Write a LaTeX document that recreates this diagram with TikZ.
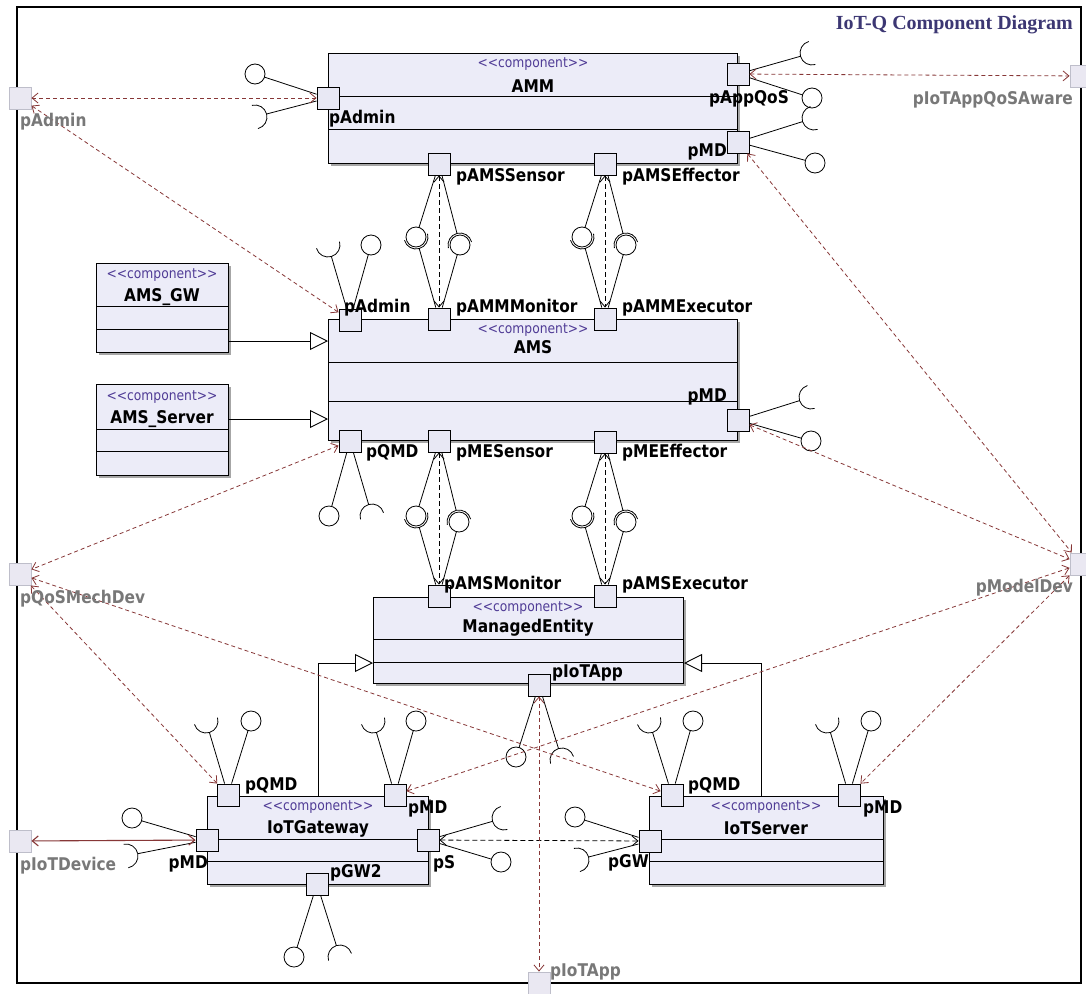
\documentclass[tikz,border=0pt]{standalone}
\usepackage{fontspec}
\usetikzlibrary{arrows.meta,calc,shadows}
\newfontfamily\lblf{DejaVu Sans}[FakeStretch=0.88]
\newfontfamily\titf{Liberation Serif}
\definecolor{compfill}{RGB}{236,236,248}
\definecolor{portfill}{RGB}{232,232,244}
\definecolor{bfill}{RGB}{234,232,242}
\definecolor{bdraw}{RGB}{190,190,202}
\definecolor{stcol}{RGB}{80,60,150}
\definecolor{delcol}{RGB}{135,55,55}
\definecolor{titcol}{RGB}{60,55,115}
\definecolor{graytxt}{RGB}{120,120,120}
\newcommand\ballr{10pt}
\newcommand\sockr{12pt}
\newcommand\lolli[2]{\draw[iline] let \p1=($(#2)-(#1)$), \n1={atan2(\y1,\x1)} in (#1) -- ($(#2)+(\n1+180:\ballr)$) (#2) circle[radius=\ballr];}
\newcommand\sockt[2]{\draw[iline] let \p1=($(#2)-(#1)$), \n1={atan2(\y1,\x1)} in (#1) -- ($(#2)+(\n1+180:\sockr)$) ($(#2)+(\n1+90:\sockr)$) arc[start angle=\n1+90, end angle=\n1+270, radius=\sockr];}
\newcommand\stereo{\symbol{60}\symbol{60}component\symbol{62}\symbol{62}}
\begin{document}
\begin{tikzpicture}[x=1pt,y=1pt,
 comp/.style={draw, line width=1pt, fill=compfill, anchor=north west, inner sep=0, drop shadow={shadow xshift=2pt,shadow yshift=-2pt,fill=black!35,opacity=1}},
 sep/.style={line width=1pt},
 port/.style={draw, line width=0.9pt, fill=portfill, minimum size=22pt, inner sep=0},
 bport/.style={draw=bdraw, line width=0.9pt, fill=bfill, minimum size=22pt, inner sep=0},
 lbl/.style={font=\lblf\bfseries\fontsize{17.5}{20}\selectfont, inner sep=0},
 glbl/.style={lbl, text=graytxt},
 st/.style={font=\lblf\fontsize{14}{16}\selectfont, text=stcol, inner sep=0},
 iline/.style={line width=0.8pt},
 barbs/.style={{Straight Barb[length=6pt,width=10pt]}-{Straight Barb[length=6pt,width=10pt]}},
 deleg/.style={draw=delcol, line width=0.8pt, dash pattern=on 4pt off 3pt, barbs},
 delsolid/.style={draw=delcol, line width=1.1pt, barbs},
 asm/.style={draw=black, line width=0.8pt, dash pattern=on 5pt off 3pt, barbs},
 gen/.style={line width=0.9pt, -{Triangle[length=18pt,width=18pt,fill=white]}}
]
\useasboundingbox (0,0) rectangle (1086,-993);
\fill[white] (0,0) rectangle (1086,-993);
\draw[line width=1.3pt] (17,-7) rectangle (1081,-983);
\node[anchor=east, font=\titf\bfseries\fontsize{20}{22}\selectfont, text=titcol, inner sep=0] (title) at (1073,-25) {IoT-Q Component Diagram};

% components
\node[comp, minimum width=409pt, minimum height=110pt] (AMM) at (328,-53) {};
\draw[sep] (AMM.west |- 0,-96) -- (AMM.east |- 0,-96);
\draw[sep] (AMM.west |- 0,-129) -- (AMM.east |- 0,-129);
\node[st] (AMMst) at (533,-64) {\stereo};
\node[lbl] (AMMnm) at (533,-86) {AMM};

\node[comp, minimum width=409pt, minimum height=121pt] (AMS) at (328,-319) {};
\draw[sep] (AMS.west |- 0,-362) -- (AMS.east |- 0,-362);
\draw[sep] (AMS.west |- 0,-401) -- (AMS.east |- 0,-401);
\node[st] (AMSst) at (533,-330) {\stereo};
\node[lbl] (AMSnm) at (533,-347) {AMS};

\node[comp, minimum width=132pt, minimum height=89pt] (AMSGW) at (96,-263) {};
\draw[sep] (AMSGW.west |- 0,-306) -- (AMSGW.east |- 0,-306);
\draw[sep] (AMSGW.west |- 0,-329) -- (AMSGW.east |- 0,-329);
\node[st] (AMSGWst) at (162,-275) {\stereo};
\node[lbl] (AMSGWnm) at (162,-297) {AMS\_GW};

\node[comp, minimum width=132pt, minimum height=91pt] (AMSSV) at (96,-384) {};
\draw[sep] (AMSSV.west |- 0,-429) -- (AMSSV.east |- 0,-429);
\draw[sep] (AMSSV.west |- 0,-451) -- (AMSSV.east |- 0,-451);
\node[st] (AMSSVst) at (162,-397) {\stereo};
\node[lbl] (AMSSVnm) at (162,-419) {AMS\_Server};

\node[comp, minimum width=310pt, minimum height=86pt] (ME) at (373,-597) {};
\draw[sep] (ME.west |- 0,-639) -- (ME.east |- 0,-639);
\draw[sep] (ME.west |- 0,-662) -- (ME.east |- 0,-662);
\node[st] (MEst) at (528,-608) {\stereo};
\node[lbl] (MEnm) at (528,-628) {ManagedEntity};

\node[comp, minimum width=221pt, minimum height=88pt] (GW) at (207,-796) {};
\draw[sep] (GW.west |- 0,-839) -- (GW.east |- 0,-839);
\draw[sep] (GW.west |- 0,-861) -- (GW.east |- 0,-861);
\node[st] (GWst) at (318,-807) {\stereo};
\node[lbl] (GWnm) at (318,-829) {IoTGateway};

\node[comp, minimum width=234pt, minimum height=88pt] (SRV) at (649,-796) {};
\draw[sep] (SRV.west |- 0,-839) -- (SRV.east |- 0,-839);
\draw[sep] (SRV.west |- 0,-861) -- (SRV.east |- 0,-861);
\node[st] (SRVst) at (766,-807) {\stereo};
\node[lbl] (SRVnm) at (766,-828) {IoTServer};

% generalizations
\draw[gen] (AMSGW.east |- 0,-341) -- (AMS.west |- 0,-341);
\draw[gen] (AMSSV.east |- 0,-419) -- (AMS.west |- 0,-419);
\draw[gen] (GW.north) |- (ME.west |- 0,-663);
\draw[gen] ([xshift=-5pt]SRV.north) |- (ME.east |- 0,-663);

% ports
\node[port] (mAadm) at (328,-98) {};
\node[port] (mAqos) at (738,-74) {};
\node[port] (mAmd) at (738,-142) {};
\node[port] (mAsen) at (439,-164) {};
\node[port] (mAeff) at (605,-164) {};
\node[port] (sadm) at (350,-320) {};
\node[port] (smon) at (439,-319) {};
\node[port] (sexe) at (605,-319) {};
\node[port] (smd) at (738,-420) {};
\node[port] (sqmd) at (350,-441) {};
\node[port] (ssen) at (439,-441) {};
\node[port] (seff) at (605,-442) {};
\node[port] (memon) at (439,-596) {};
\node[port] (meexe) at (605,-596) {};
\node[port] (meapp) at (539,-685) {};
\node[port] (gqmd) at (228,-795) {};
\node[port] (gmd) at (395,-795) {};
\node[port] (gmdl) at (207,-840) {};
\node[port] (gs) at (428,-840) {};
\node[port] (ggw) at (317,-884) {};
\node[port] (vqmd) at (672,-795) {};
\node[port] (vmd) at (849,-795) {};
\node[port] (vgw) at (650,-841) {};
% boundary ports
\node[bport] (badm) at (20,-98) {};
\node[bport] (bqos) at (1081,-76) {};
\node[bport] (bmodel) at (1081,-564) {};
\node[bport] (bmech) at (20,-574) {};
\node[bport] (bdev) at (20,-841) {};
\node[bport] (bapp) at (539,-983) {};

% provided / required interfaces
\lolli{mAadm}{255,-74}   \sockt{mAadm}{255,-117}
\lolli{mAqos}{812,-98}   \sockt{mAqos}{812,-53}
\lolli{mAmd}{815,-163}   \sockt{mAmd}{814,-118}
\lolli{mAsen}{416,-237}  \sockt{mAsen}{460,-245}
\lolli{mAeff}{582,-237}  \sockt{mAeff}{626,-245}
\lolli{sadm}{371,-245}   \sockt{sadm}{328,-245}
\lolli{smon}{460,-245}   \sockt{smon}{416,-237}
\lolli{sexe}{626,-245}   \sockt{sexe}{582,-237}
\lolli{smd}{811,-441}    \sockt{smd}{811,-397}
\lolli{sqmd}{329,-516}   \sockt{sqmd}{372,-516}
\lolli{ssen}{416,-516}   \sockt{ssen}{459,-522}
\lolli{seff}{582,-516}   \sockt{seff}{626,-522}
\lolli{memon}{459,-522}  \sockt{memon}{416,-516}
\lolli{meexe}{626,-522}  \sockt{meexe}{582,-516}
\lolli{meapp}{516,-757}  \sockt{meapp}{562,-760}
\lolli{gqmd}{251,-721}   \sockt{gqmd}{206,-721}
\lolli{gmd}{416,-721}    \sockt{gmd}{373,-721}
\lolli{gmdl}{132,-818}   \sockt{gmdl}{126,-856}
\lolli{gs}{501,-862}     \sockt{gs}{504,-818}
\lolli{ggw}{294,-957}    \sockt{ggw}{340,-957}
\lolli{vqmd}{693,-721}   \sockt{vqmd}{649,-721}
\lolli{vmd}{871,-721}    \sockt{vmd}{827,-721}
\lolli{vgw}{575,-817}    \sockt{vgw}{577,-860}

% assembly connectors
\draw[asm] (mAsen) -- (smon);
\draw[asm] (mAeff) -- (sexe);
\draw[asm] (ssen) -- (memon);
\draw[asm] (seff) -- (meexe);
\draw[asm] (gs) -- (vgw);

% delegation connectors
\draw[deleg] (badm) -- (mAadm);
\draw[deleg] (badm) -- (sadm);
\draw[deleg] (mAqos) -- (bqos);
\draw[deleg] (mAmd) -- (bmodel);
\draw[deleg] (smd) -- (bmodel);
\draw[deleg] (sqmd) -- (bmech);
\draw[deleg] (bmech) -- (gqmd);
\draw[deleg] (bmech) -- (vqmd);
\draw[deleg] (bmodel) -- (gmd);
\draw[deleg] (bmodel) -- (vmd);
\draw[deleg] (meapp) -- (bapp);
\draw[delsolid] (bdev) -- (gmdl);

% port labels
\node[lbl,anchor=west] (L1) at (329,-119) {pAdmin};
\node[lbl] (L2) at (749,-99) {pAppQoS};
\node[lbl,anchor=east] (L3) at (727,-152) {pMD};
\node[lbl,anchor=west] (L4) at (456,-177) {pAMSSensor};
\node[lbl,anchor=west] (L5) at (622,-177) {pAMSEffector};
\node[lbl,anchor=west] (L6) at (344,-308) {pAdmin};
\node[lbl,anchor=west] (L7) at (456,-308) {pAMMMonitor};
\node[lbl,anchor=west] (L8) at (622,-308) {pAMMExecutor};
\node[lbl,anchor=east] (L9) at (727,-397) {pMD};
\node[lbl,anchor=west] (L10) at (366,-453) {pQMD};
\node[lbl,anchor=west] (L11) at (456,-453) {pMESensor};
\node[lbl,anchor=west] (L12) at (622,-453) {pMEEffector};
\node[lbl,anchor=west] (L13) at (444,-585) {pAMSMonitor};
\node[lbl,anchor=west] (L14) at (622,-585) {pAMSExecutor};
\node[lbl,anchor=west] (L15) at (552,-673) {pIoTApp};
\node[lbl,anchor=west] (L16) at (245,-786) {pQMD};
\node[lbl,anchor=west] (L17) at (408,-809) {pMD};
\node[lbl,anchor=east] (L18) at (208,-864) {pMD};
\node[lbl,anchor=west] (L19) at (433,-864) {pS};
\node[lbl,anchor=west] (L20) at (330,-873) {pGW2};
\node[lbl,anchor=west] (L21) at (688,-786) {pQMD};
\node[lbl,anchor=west] (L22) at (863,-809) {pMD};
\node[lbl,anchor=east] (L23) at (649,-863) {pGW};
\node[glbl,anchor=west] (G1) at (20,-122) {pAdmin};
\node[glbl,anchor=east] (G2) at (1073,-100) {pIoTAppQoSAware};
\node[glbl,anchor=east] (G3) at (1073,-588) {pModelDev};
\node[glbl,anchor=west] (G4) at (20,-599) {pQoSMechDev};
\node[glbl,anchor=west] (G5) at (20,-866) {pIoTDevice};
\node[glbl,anchor=west] (G6) at (550,-972) {pIoTApp};
\end{tikzpicture}
\end{document}
